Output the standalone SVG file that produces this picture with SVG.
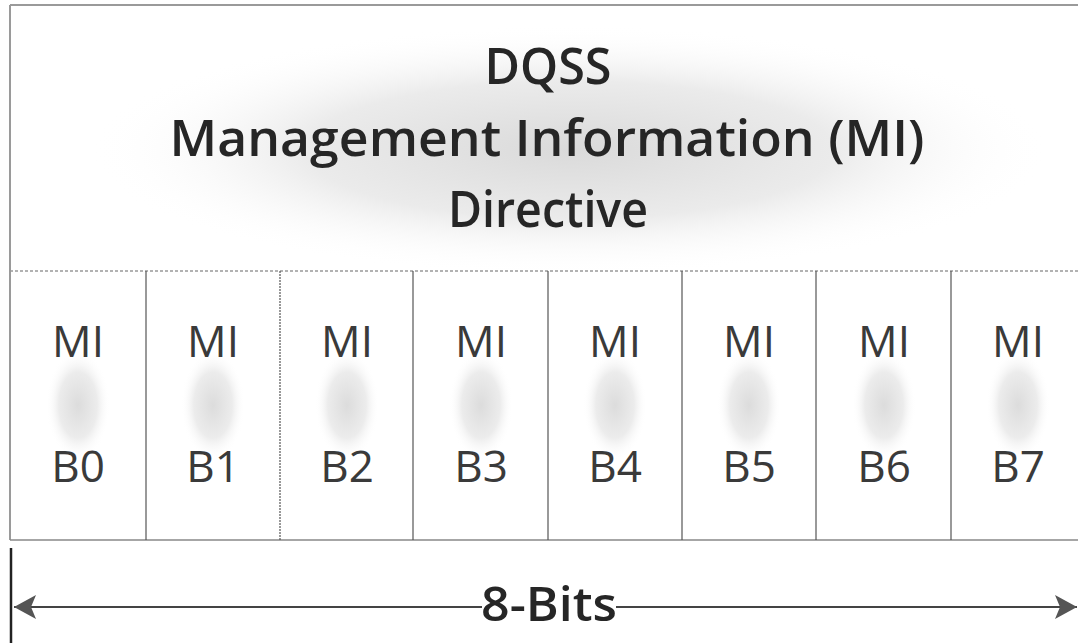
<svg xmlns="http://www.w3.org/2000/svg" width="1078" height="643" viewBox="0 0 1078 643">
<defs>
<style>
.t{font-family:"Open Sans","Noto Sans",sans-serif;fill:#262626;text-anchor:middle}
.title{font-size:51px;font-weight:600}
.cell{font-size:44px;fill:#3a3a3a}
.div{stroke:#555;stroke-width:1.2;fill:none}
.border{stroke:#9a9a9a;stroke-width:2;fill:none}
</style>
<radialGradient id="hg" cx="0.5" cy="0.5" r="0.5">
<stop offset="0" stop-color="#dadada"/>
<stop offset="0.55" stop-color="#ebebeb"/>
<stop offset="1" stop-color="#fff" stop-opacity="0"/>
</radialGradient>
<radialGradient id="cg" cx="0.5" cy="0.5" r="0.5">
<stop offset="0" stop-color="#dcdcdc"/>
<stop offset="0.6" stop-color="#ececec"/>
<stop offset="1" stop-color="#fff" stop-opacity="0"/>
</radialGradient>
<marker id="ah2" viewBox="0 0 22 24" refX="22" refY="12" markerWidth="22" markerHeight="24" markerUnits="userSpaceOnUse" orient="auto-start-reverse">
<path d="M0,0 L22,12 L0,24 L5,12 z" fill="#555"/>
</marker>
</defs>
<rect width="1078" height="643" fill="#fff"/>
<g id="header">
<ellipse cx="570" cy="150" rx="480" ry="125" fill="url(#hg)"/>
<path class="border" d="M10,5 H1078 M10,5 V540"/>
<text class="t title" x="548" y="84" textLength="127" lengthAdjust="spacingAndGlyphs">DQSS</text>
<text class="t title" x="547" y="156" textLength="755" lengthAdjust="spacingAndGlyphs">Management Information (MI)</text>
<text class="t title" x="548" y="227" textLength="200" lengthAdjust="spacingAndGlyphs">Directive</text>
</g>
<g id="cells">
<line x1="10" y1="271" x2="1078" y2="271" stroke="#999" stroke-width="1.5" stroke-dasharray="3,2"/>
<line x1="10" y1="540" x2="1078" y2="540" stroke="#888" stroke-width="1.5"/>
<g class="div">
<line x1="146" y1="271" x2="146" y2="540"/>
<line x1="280" y1="271" x2="280" y2="540" stroke-dasharray="2,1"/>
<line x1="413" y1="271" x2="413" y2="540"/>
<line x1="548" y1="271" x2="548" y2="540"/>
<line x1="682" y1="271" x2="682" y2="540"/>
<line x1="816" y1="271" x2="816" y2="540"/>
<line x1="951" y1="271" x2="951" y2="540"/>
</g>
</g>
<g id="b0"><ellipse cx="78" cy="405" rx="32" ry="55" fill="url(#cg)"/><text class="t cell" x="78" y="357">MI</text><text class="t cell" x="78" y="482">B0</text></g>
<g id="b1"><ellipse cx="213" cy="405" rx="32" ry="55" fill="url(#cg)"/><text class="t cell" x="213" y="357">MI</text><text class="t cell" x="213" y="482">B1</text></g>
<g id="b2"><ellipse cx="347" cy="405" rx="32" ry="55" fill="url(#cg)"/><text class="t cell" x="347" y="357">MI</text><text class="t cell" x="347" y="482">B2</text></g>
<g id="b3"><ellipse cx="481" cy="405" rx="32" ry="55" fill="url(#cg)"/><text class="t cell" x="481" y="357">MI</text><text class="t cell" x="481" y="482">B3</text></g>
<g id="b4"><ellipse cx="615" cy="405" rx="32" ry="55" fill="url(#cg)"/><text class="t cell" x="615" y="357">MI</text><text class="t cell" x="615" y="482">B4</text></g>
<g id="b5"><ellipse cx="749" cy="405" rx="32" ry="55" fill="url(#cg)"/><text class="t cell" x="749" y="357">MI</text><text class="t cell" x="749" y="482">B5</text></g>
<g id="b6"><ellipse cx="884" cy="405" rx="32" ry="55" fill="url(#cg)"/><text class="t cell" x="884" y="357">MI</text><text class="t cell" x="884" y="482">B6</text></g>
<g id="b7"><ellipse cx="1018" cy="405" rx="32" ry="55" fill="url(#cg)"/><text class="t cell" x="1018" y="357">MI</text><text class="t cell" x="1018" y="482">B7</text></g>
<g id="connectors">
<line x1="11" y1="548" x2="11" y2="643" stroke="#222" stroke-width="2.5"/>
<line x1="14" y1="607" x2="482" y2="607" stroke="#444" stroke-width="2" marker-start="url(#ah2)"/>
<line x1="616" y1="607" x2="1077" y2="607" stroke="#444" stroke-width="2" marker-end="url(#ah2)"/>
</g>
<g id="label">
<text class="t" x="549" y="621" style="font-size:47px;font-weight:600" textLength="136" lengthAdjust="spacingAndGlyphs">8-Bits</text>
</g>
</svg>
